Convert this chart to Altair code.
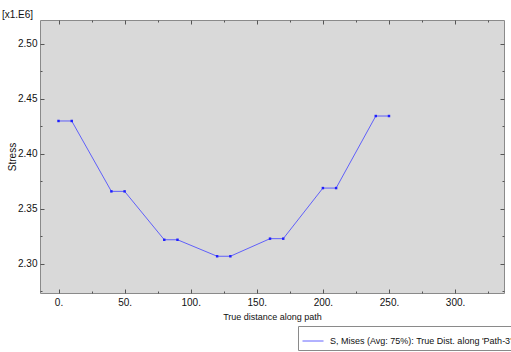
import altair as alt
import pandas as pd

# Data (stress in units of 1e6)
dist = [0, 10, 40, 50, 80, 90, 120, 130, 160, 170, 200, 210, 240, 250]
stress = [2.430, 2.430, 2.366, 2.366, 2.322, 2.322, 2.307, 2.307,
          2.323, 2.323, 2.369, 2.369, 2.4345, 2.4345]
series_name = "S, Mises (Avg: 75%): True Dist. along 'Path-3'"

x_major = [0, 50, 100, 150, 200, 250, 300]
x_minor = [25, 75, 125, 175, 225, 275, 325]
y_major = [2.30, 2.35, 2.40, 2.45, 2.50]
y_minor = [2.275, 2.325, 2.375, 2.425, 2.475]

x_domain = [-14, 337]
y_domain = [2.2736, 2.5218]

df = pd.DataFrame({"dist": dist, "stress": stress,
                   "series": [series_name] * len(dist)})

FONT = "Liberation Sans"
FS = 10
FS_SMALL = 9
TXT = "#111111"
TICK = "#555555"
LINE = "#4a4aff"

xs = alt.Scale(domain=x_domain, nice=False, zero=False)
ys = alt.Scale(domain=y_domain, nice=False, zero=False)


def tick_axis(orient, values, size):
    return alt.Axis(orient=orient, values=values, offset=-size, tickSize=size,
                    labels=False, domain=False, grid=False, title=None,
                    tickColor=TICK, tickWidth=1)


base = alt.Chart(df)

line = base.mark_line(strokeWidth=1, opacity=0.85).encode(
    x=alt.X("dist:Q", scale=xs,
            axis=alt.Axis(orient="bottom", values=x_major, offset=-4, tickSize=4,
                          domain=False, grid=False, tickColor=TICK,
                          labelExpr="datum.value + '.'", labelFlush=False,
                          labelPadding=4, labelFont=FONT, labelFontSize=FS,
                          labelColor=TXT, title="True distance along path",
                          titleFont=FONT, titleFontSize=FS_SMALL,
                          titleFontWeight="normal", titleColor=TXT,
                          titlePadding=5)),
    y=alt.Y("stress:Q", scale=ys,
            axis=alt.Axis(orient="left", values=y_major, offset=-4, tickSize=4,
                          domain=False, grid=False, tickColor=TICK,
                          format=".2f", labelPadding=3, labelFont=FONT,
                          labelFontSize=FS, labelColor=TXT, title="Stress",
                          titleFont=FONT, titleFontSize=FS,
                          titleFontWeight="normal", titleColor=TXT,
                          titlePadding=0)),
    color=alt.Color("series:N", scale=alt.Scale(range=[LINE]),
                    legend=alt.Legend(orient="none", legendX=258, legendY=306,
                                      title=None, symbolType="stroke",
                                      symbolSize=441, symbolStrokeWidth=1,
                                      strokeColor="#8a8a8a", fillColor="white",
                                      padding=4, labelFont=FONT,
                                      labelFontSize=FS_SMALL, labelColor=TXT,
                                      labelOffset=6, labelLimit=400)),
)

pts = base.mark_square(size=6, color="#2020ff", opacity=1).encode(
    x=alt.X("dist:Q", scale=xs, axis=None),
    y=alt.Y("stress:Q", scale=ys, axis=None),
)

minor_bl = base.mark_point(opacity=0).encode(
    x=alt.X("dist:Q", scale=xs, axis=tick_axis("bottom", x_minor, 2)),
    y=alt.Y("stress:Q", scale=ys, axis=tick_axis("left", y_minor, 2)),
)
major_tr = base.mark_point(opacity=0).encode(
    x=alt.X("dist:Q", scale=xs, axis=tick_axis("top", x_major, 4)),
    y=alt.Y("stress:Q", scale=ys, axis=tick_axis("right", y_major, 4)),
)
minor_tr = base.mark_point(opacity=0).encode(
    x=alt.X("dist:Q", scale=xs, axis=tick_axis("top", x_minor, 2)),
    y=alt.Y("stress:Q", scale=ys, axis=tick_axis("right", y_minor, 2)),
)

chart = (
    alt.layer(line, pts, minor_bl, major_tr, minor_tr)
    .resolve_axis(x="independent", y="independent")
    .properties(
        width=464, height=273,
        padding={"left": 40, "top": 20, "right": 7, "bottom": 59},
        autosize=alt.AutoSizeParams(type="none"),
        background="white",
        title=alt.Title("[x1.E6]", anchor="start", frame="group", dx=-38,
                        offset=0, font=FONT, fontSize=FS, fontWeight="normal",
                        color=TXT),
    )
    .configure_view(fill="#d9d9d9", stroke="#8a8a8a", strokeWidth=1)
)

chart.save("out.html", embed_options={"renderer": "svg", "actions": False})
